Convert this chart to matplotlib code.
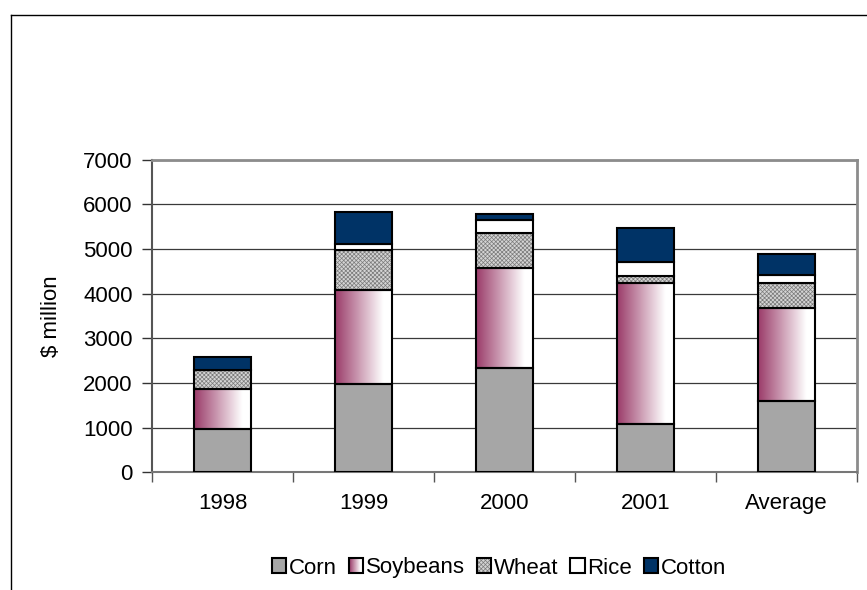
import numpy as np
import matplotlib.pyplot as plt
from matplotlib.patches import Rectangle
from matplotlib.lines import Line2D
from matplotlib.legend_handler import HandlerBase
from matplotlib.colors import to_rgb

plt.rcParams['font.family'] = ['Liberation Sans', 'DejaVu Sans']
plt.rcParams['hatch.linewidth'] = 0.5

# $ million by crop
categories = ['1998', '1999', '2000', '2001', 'Average']
corn = [980, 1975, 2330, 1085, 1600]
soybeans = [890, 2100, 2250, 3150, 2070]
wheat = [410, 890, 765, 165, 570]
rice = [0, 155, 290, 310, 185]
cotton = [310, 700, 155, 750, 470]

CORN_C = '#a6a6a6'
SOY_C = '#9a3b69'
COTTON_C = '#003366'
FS = 16
WHEAT_HATCH = dict(facecolor='#d4d4d4', edgecolor='#7a7a7a', hatch='xxxxxxxx', linewidth=0)


def soy_color(t):
    f = min(max(t / 0.85, 0.0), 1.0)
    a = np.array(to_rgb(SOY_C))
    return tuple(a * (1 - f) + np.ones(3) * f)


grad = np.array([soy_color(t) for t in np.linspace(0, 1, 256)])[None, :, :]

fig = plt.figure(figsize=(8.67, 5.9), dpi=100)
ax = fig.add_axes([152 / 867, 1 - 472.3 / 590, 705 / 867, 312.8 / 590])

x = np.arange(len(categories))
w = 0.4
edge = dict(edgecolor='black', linewidth=1.5, zorder=3)

b0 = np.zeros(len(categories))
ax.bar(x, corn, w, bottom=b0, color=CORN_C, **edge)
b1 = b0 + np.array(corn)

# soybeans: gradient fill clipped to each bar
soy_bars = ax.bar(x, soybeans, w, bottom=b1, facecolor='none', **edge)
for r in soy_bars:
    ax.imshow(grad, extent=(r.get_x(), r.get_x() + r.get_width(),
                            r.get_y(), r.get_y() + r.get_height()),
              aspect='auto', interpolation='bilinear', zorder=2)
b2 = b1 + np.array(soybeans)

ax.bar(x, wheat, w, bottom=b2, zorder=2, **WHEAT_HATCH)
ax.bar(x, wheat, w, bottom=b2, facecolor='none', **edge)
b3 = b2 + np.array(wheat)

ax.bar(x, rice, w, bottom=b3, color='white', **edge)
b4 = b3 + np.array(rice)

ax.bar(x, cotton, w, bottom=b4, color=COTTON_C, **edge)

ax.set_xlim(-0.5, len(categories) - 0.5)
ax.set_ylim(0, 7000)
ax.set_yticks(np.arange(0, 7001, 1000))
ax.yaxis.grid(True, color='#3a3a3a', linewidth=0.9)
ax.set_axisbelow(True)

ax.set_xticks(x)
ax.set_xticklabels(categories)
ax.set_xticks(np.arange(len(categories) + 1) - 0.5, minor=True)
ax.tick_params(axis='x', which='major', length=0, pad=15, labelsize=FS)
ax.tick_params(axis='x', which='minor', length=7, width=1, color='#555555')
ax.tick_params(axis='y', length=7, width=1, color='#333333', pad=7, labelsize=FS)

for s in ['top', 'right']:
    ax.spines[s].set_color('#8c8c8c')
    ax.spines[s].set_linewidth(2)
ax.spines['left'].set_color('#555555')
ax.spines['left'].set_linewidth(1.5)
ax.spines['bottom'].set_color('#777777')
ax.spines['bottom'].set_linewidth(1.5)

ax.set_ylabel('$ million', fontsize=FS)
ax.yaxis.set_label_coords(-0.128, 0.5)


class SwatchHandler(HandlerBase):
    def create_artists(self, legend, orig_handle, xdescent, ydescent,
                       width, height, fontsize, trans):
        kind = orig_handle.get_label()
        x0, y0 = -xdescent, -ydescent
        arts = []
        if kind == 'Soybeans':
            n = 14
            for i in range(n):
                arts.append(Rectangle((x0 + i * width / n, y0), width / n, height,
                                      facecolor=soy_color(i / (n - 1)),
                                      edgecolor='none', transform=trans))
            face = 'none'
        elif kind == 'Wheat':
            arts.append(Rectangle((x0, y0), width, height, transform=trans,
                                  **WHEAT_HATCH))
            face = 'none'
        else:
            face = orig_handle.get_facecolor()
        arts.append(Rectangle((x0, y0), width, height, facecolor=face,
                              edgecolor='black', linewidth=1.5, transform=trans))
        return arts


names = ['Corn', 'Soybeans', 'Wheat', 'Rice', 'Cotton']
faces = [CORN_C, 'white', 'white', 'white', COTTON_C]
handles = [Rectangle((0, 0), 1, 1, facecolor=f, label=n) for n, f in zip(names, faces)]
fig.legend(handles, names, loc='center', bbox_to_anchor=(499 / 867, 1 - 568 / 590),
           ncol=5, frameon=False, fontsize=FS, handlelength=0.64, handleheight=0.64,
           handletextpad=0.12, columnspacing=0.55, borderpad=0,
           handler_map={Rectangle: SwatchHandler()})

# outer chart border (top and left edges)
fig.add_artist(Line2D([10.5 / 867, 1], [1 - 14.5 / 590] * 2,
                      transform=fig.transFigure, color='black', linewidth=1))
fig.add_artist(Line2D([10.5 / 867] * 2, [0, 1 - 14.5 / 590],
                      transform=fig.transFigure, color='black', linewidth=1))

fig.savefig('out.png', dpi=100)
